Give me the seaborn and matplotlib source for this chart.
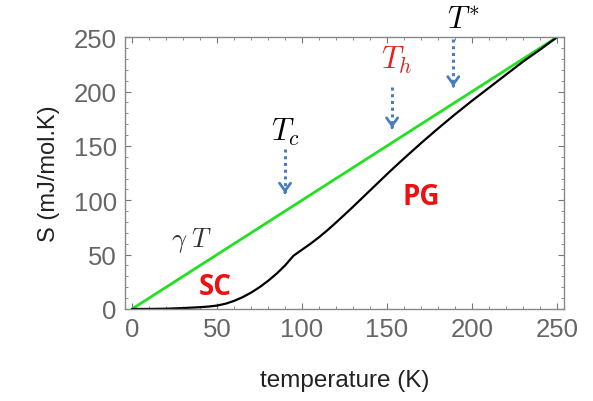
import matplotlib
matplotlib.use("Agg")
import matplotlib.pyplot as plt
import pandas as pd
import seaborn as sns
from matplotlib.ticker import MultipleLocator

# Entropy curve (T in K, S in mJ/mol.K)
temp_k = [0, 10, 20, 30, 40, 45, 50, 55, 60, 65, 70, 75, 80, 85, 90, 95,
          100, 105, 110, 115, 120, 125, 130, 135, 140, 145, 150, 155, 160,
          170, 180, 190, 200, 210, 220, 230, 240, 250]
entropy = [0, 0, 0.2, 0.8, 1.6, 2.2, 3.1, 4.8, 7.4, 10.8, 15, 20, 25.8, 32.4,
           40, 49, 54.5, 60, 66, 72.5, 79.5, 86.7, 94, 101.5, 109, 116.5, 124,
           131.3, 138.5, 152.5, 166, 179, 191.5, 203.5, 215.5, 227.5, 238.5,
           250]

# gamma*T reference line
gamma_t_temp = [0, 250]
gamma_t_entropy = [0, 250]

# Arrow markers: (label, T, S_start, S_end, label_T, label_S, colour)
markers = [
    (r"$T_c$", 90, 147, 104, 90, 156, "black"),
    (r"$T_h$", 153, 204, 164, 156, 222, "#e8201e"),
    (r"$T^{*}$", 189, 248, 202, 195, 259, "black"),
]

region_labels = [("SC", 49, 21), ("PG", 170, 103)]

sns.set_style("ticks")
plt.rcParams["font.family"] = ["Liberation Sans", "DejaVu Sans"]
plt.rcParams["mathtext.fontset"] = "cm"

fig = plt.figure(figsize=(5.93, 4.02), dpi=100)
ax = fig.add_axes([0.211, 0.229, 0.740, 0.676])

curve = pd.DataFrame({"T": temp_k, "S": entropy})
line = pd.DataFrame({"T": gamma_t_temp, "S": gamma_t_entropy})
sns.lineplot(data=line, x="T", y="S", color="#22e022", linewidth=2.0, ax=ax)
sns.lineplot(data=curve, x="T", y="S", color="black", linewidth=1.6, ax=ax)

ax.set_xlim(-4.1, 254.1)
ax.set_ylim(0, 250)
ax.xaxis.set_major_locator(MultipleLocator(50))
ax.xaxis.set_minor_locator(MultipleLocator(10))
ax.yaxis.set_major_locator(MultipleLocator(50))
ax.yaxis.set_minor_locator(MultipleLocator(10))
ax.tick_params(which="both", direction="in", top=True, right=True,
               color="#777777", labelcolor="#666666", labelsize=18.5)
ax.tick_params(which="major", length=4, width=0.8, pad=6)
ax.tick_params(which="minor", length=2, width=0.6)
for s in ax.spines.values():
    s.set_color("#888888")
    s.set_linewidth(1.0)

ax.set_xlabel("temperature (K)", fontsize=17.5, color="#222222", labelpad=20)
ax.set_ylabel("S (mJ/mol.K)", fontsize=17, color="#222222", labelpad=10)

for label, t, s0, s1, lt, ls, col in markers:
    ax.plot([t, t], [s0, s1 + 3], linestyle=(0, (1, 1.2)), color="#4a7ebb",
            linewidth=2.2, clip_on=False)
    ax.annotate("", xy=(t, s1), xytext=(t, s1 + 6),
                arrowprops=dict(arrowstyle="->,head_length=0.55,head_width=0.4",
                                color="#4a7ebb", lw=2.0),
                annotation_clip=False)
    ax.text(lt, ls, label, fontsize=22, color=col, ha="center", va="baseline",
            clip_on=False)

ax.text(35, 64, r"$\gamma\;T$", fontsize=19, color="#333333", ha="center",
        va="center")
for txt, t, s in region_labels:
    ax.text(t, s, txt, fontsize=20, fontweight="bold", color="#ee1111",
            ha="center", va="center", family=["Open Sans", "DejaVu Sans"])

fig.savefig("out.png", dpi=100)
